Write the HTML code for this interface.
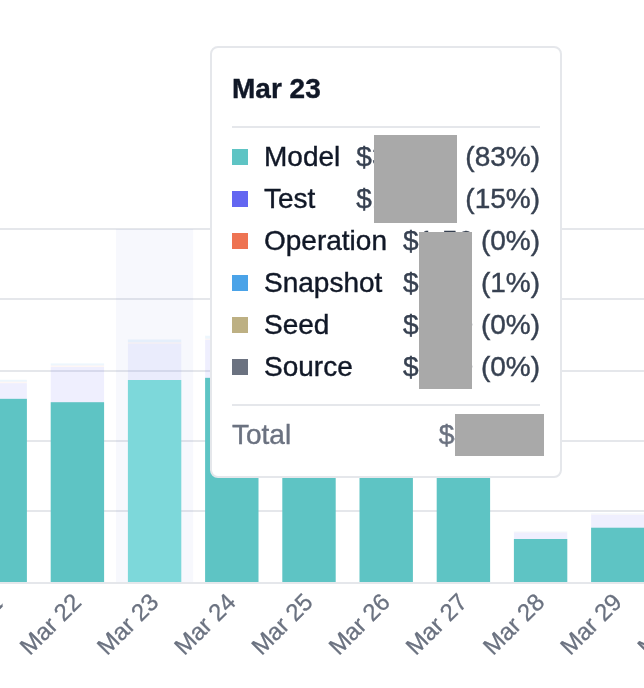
<!DOCTYPE html>
<html lang="en">
<head>
<meta charset="utf-8">
<title>Cost chart</title>
<style>
html,body{margin:0;padding:0;background:#fff;}
body{width:644px;height:688px;position:relative;overflow:hidden;font-family:"Liberation Sans",Arial,Helvetica,sans-serif;}
.chart{position:absolute;left:0;top:0;display:block;font-family:"Liberation Sans",Arial,Helvetica,sans-serif;}
.tip{position:absolute;left:210px;top:46px;width:308px;height:388px;padding:20px;border:2px solid #e5e7eb;border-radius:8px;background:#fff;font-size:28px;line-height:42px;color:#111827;}
.title{font-weight:bold;height:42px;padding-bottom:16px;border-bottom:2px solid #e5e7eb;margin-bottom:8px;}
.row{height:42px;position:relative;white-space:nowrap;}
.sw{position:absolute;left:0;top:13px;width:16px;height:16px;}
.lab{position:absolute;left:32px;top:0;-webkit-text-stroke:0.4px #111827;}
.val{position:absolute;right:0;top:0;color:#374151;-webkit-text-stroke:0.4px #374151;}
.total{margin-top:16px;border-top:2px solid #e5e7eb;padding-top:8px;height:42px;position:relative;color:#6b7280;}
.total .val{top:8px;color:#6b7280;-webkit-text-stroke:0.4px #6b7280;}
.total .tl{position:absolute;left:0;top:8px;-webkit-text-stroke:0.4px #6b7280;}
.title span{display:inline-block;-webkit-text-stroke:0.4px #111827;}
.mask{position:absolute;background:#a9a9a9;}
</style>
</head>
<body>
<svg class="chart" width="644" height="688" viewBox="0 0 644 688">
<rect x="0" y="228.00" width="644" height="2" fill="#e5e7eb"/>
<rect x="0" y="298.00" width="644" height="2" fill="#e5e7eb"/>
<rect x="0" y="370.00" width="644" height="2" fill="#e5e7eb"/>
<rect x="0" y="440.00" width="644" height="2" fill="#e5e7eb"/>
<rect x="0" y="510.00" width="644" height="2" fill="#e5e7eb"/>
<rect x="116.00" y="229.00" width="77.20" height="353.00" fill="#6378dc" fill-opacity="0.05"/>
<rect x="-26.50" y="398.80" width="53.4" height="183.20" fill="#5ec4c4"/>
<rect x="-26.50" y="383.20" width="53.4" height="15.60" fill="#6366f1" fill-opacity="0.1"/>
<rect x="-26.50" y="381.70" width="53.4" height="1.50" fill="#ee7352" fill-opacity="0.06"/>
<rect x="-26.50" y="379.80" width="53.4" height="1.90" fill="#4aa3e8" fill-opacity="0.1"/>
<rect x="50.70" y="402.20" width="53.4" height="179.80" fill="#5ec4c4"/>
<rect x="50.70" y="367.00" width="53.4" height="35.20" fill="#6366f1" fill-opacity="0.1"/>
<rect x="50.70" y="365.50" width="53.4" height="1.50" fill="#ee7352" fill-opacity="0.06"/>
<rect x="50.70" y="363.40" width="53.4" height="2.10" fill="#4aa3e8" fill-opacity="0.1"/>
<rect x="127.90" y="380.00" width="53.4" height="202.00" fill="#7dd8da"/>
<rect x="127.90" y="343.70" width="53.4" height="36.30" fill="#818cf8" fill-opacity="0.1"/>
<rect x="127.90" y="342.30" width="53.4" height="1.40" fill="#ee7352" fill-opacity="0.06"/>
<rect x="127.90" y="339.50" width="53.4" height="2.80" fill="#4aa3e8" fill-opacity="0.1"/>
<rect x="205.10" y="377.80" width="53.4" height="204.20" fill="#5ec4c4"/>
<rect x="205.10" y="339.80" width="53.4" height="38.00" fill="#6366f1" fill-opacity="0.1"/>
<rect x="205.10" y="338.60" width="53.4" height="1.20" fill="#ee7352" fill-opacity="0.06"/>
<rect x="205.10" y="335.70" width="53.4" height="2.90" fill="#4aa3e8" fill-opacity="0.1"/>
<rect x="282.30" y="420.00" width="53.4" height="162.00" fill="#5ec4c4"/>
<rect x="282.30" y="403.00" width="53.4" height="17.00" fill="#6366f1" fill-opacity="0.1"/>
<rect x="282.30" y="402.00" width="53.4" height="1.00" fill="#ee7352" fill-opacity="0.06"/>
<rect x="282.30" y="400.00" width="53.4" height="2.00" fill="#4aa3e8" fill-opacity="0.1"/>
<rect x="359.50" y="430.00" width="53.4" height="152.00" fill="#5ec4c4"/>
<rect x="359.50" y="413.00" width="53.4" height="17.00" fill="#6366f1" fill-opacity="0.1"/>
<rect x="359.50" y="412.00" width="53.4" height="1.00" fill="#ee7352" fill-opacity="0.06"/>
<rect x="359.50" y="410.00" width="53.4" height="2.00" fill="#4aa3e8" fill-opacity="0.1"/>
<rect x="436.70" y="440.00" width="53.4" height="142.00" fill="#5ec4c4"/>
<rect x="436.70" y="423.00" width="53.4" height="17.00" fill="#6366f1" fill-opacity="0.1"/>
<rect x="436.70" y="422.00" width="53.4" height="1.00" fill="#ee7352" fill-opacity="0.06"/>
<rect x="436.70" y="420.00" width="53.4" height="2.00" fill="#4aa3e8" fill-opacity="0.1"/>
<rect x="513.90" y="539.00" width="53.4" height="43.00" fill="#5ec4c4"/>
<rect x="513.90" y="532.60" width="53.4" height="6.40" fill="#6366f1" fill-opacity="0.1"/>
<rect x="513.90" y="532.20" width="53.4" height="0.40" fill="#ee7352" fill-opacity="0.06"/>
<rect x="513.90" y="531.60" width="53.4" height="0.60" fill="#4aa3e8" fill-opacity="0.1"/>
<rect x="591.10" y="527.70" width="53.4" height="54.30" fill="#5ec4c4"/>
<rect x="591.10" y="514.80" width="53.4" height="12.90" fill="#6366f1" fill-opacity="0.1"/>
<rect x="591.10" y="514.30" width="53.4" height="0.50" fill="#ee7352" fill-opacity="0.06"/>
<rect x="591.10" y="513.50" width="53.4" height="0.80" fill="#4aa3e8" fill-opacity="0.1"/>
<rect x="668.30" y="540.00" width="53.4" height="42.00" fill="#5ec4c4"/>
<rect x="668.30" y="531.00" width="53.4" height="9.00" fill="#6366f1" fill-opacity="0.1"/>
<rect x="668.30" y="530.50" width="53.4" height="0.50" fill="#ee7352" fill-opacity="0.06"/>
<rect x="668.30" y="530.00" width="53.4" height="0.50" fill="#4aa3e8" fill-opacity="0.1"/>
<rect x="0" y="582.00" width="644" height="2" fill="#e5e7eb"/>
<text x="5.50" y="603.50" transform="rotate(-45 5.50 603.50)" text-anchor="end" font-size="24" fill="#6b7280" stroke="#6b7280" stroke-width="0.3">Mar 21</text>
<text x="82.70" y="603.50" transform="rotate(-45 82.70 603.50)" text-anchor="end" font-size="24" fill="#6b7280" stroke="#6b7280" stroke-width="0.3">Mar 22</text>
<text x="159.90" y="603.50" transform="rotate(-45 159.90 603.50)" text-anchor="end" font-size="24" fill="#6b7280" stroke="#6b7280" stroke-width="0.3">Mar 23</text>
<text x="237.10" y="603.50" transform="rotate(-45 237.10 603.50)" text-anchor="end" font-size="24" fill="#6b7280" stroke="#6b7280" stroke-width="0.3">Mar 24</text>
<text x="314.30" y="603.50" transform="rotate(-45 314.30 603.50)" text-anchor="end" font-size="24" fill="#6b7280" stroke="#6b7280" stroke-width="0.3">Mar 25</text>
<text x="391.50" y="603.50" transform="rotate(-45 391.50 603.50)" text-anchor="end" font-size="24" fill="#6b7280" stroke="#6b7280" stroke-width="0.3">Mar 26</text>
<text x="468.70" y="603.50" transform="rotate(-45 468.70 603.50)" text-anchor="end" font-size="24" fill="#6b7280" stroke="#6b7280" stroke-width="0.3">Mar 27</text>
<text x="545.90" y="603.50" transform="rotate(-45 545.90 603.50)" text-anchor="end" font-size="24" fill="#6b7280" stroke="#6b7280" stroke-width="0.3">Mar 28</text>
<text x="623.10" y="603.50" transform="rotate(-45 623.10 603.50)" text-anchor="end" font-size="24" fill="#6b7280" stroke="#6b7280" stroke-width="0.3">Mar 29</text>
<text x="700.30" y="603.50" transform="rotate(-45 700.30 603.50)" text-anchor="end" font-size="24" fill="#6b7280" stroke="#6b7280" stroke-width="0.3">Mar 30</text>
<rect x="2.6" y="596" width="6" height="10.5" fill="#fff"/>
</svg>
<div class="tip">
<div class="title"><span>Mar 23</span></div>
<div class="row"><span class="sw" style="background:#5ec4c4"></span><span class="lab">Model</span><span class="val">$353.20 (83%)</span></div>
<div class="row"><span class="sw" style="background:#6366f1"></span><span class="lab">Test</span><span class="val">$103.45 (15%)</span></div>
<div class="row"><span class="sw" style="background:#ee7352"></span><span class="lab">Operation</span><span class="val">$1.56 (0%)</span></div>
<div class="row"><span class="sw" style="background:#4aa3e8"></span><span class="lab">Snapshot</span><span class="val">$7.26 (1%)</span></div>
<div class="row"><span class="sw" style="background:#bdb083"></span><span class="lab">Seed</span><span class="val">$0.00 (0%)</span></div>
<div class="row"><span class="sw" style="background:#6b7280"></span><span class="lab">Source</span><span class="val">$0.00 (0%)</span></div>
<div class="total"><span class="tl">Total</span><span class="val">$425.47</span></div>
</div>
<div class="mask" style="left:374px;top:135px;width:83px;height:88px"></div>
<div class="mask" style="left:419px;top:232px;width:53px;height:157px"></div>
<div class="mask" style="left:455px;top:414px;width:89px;height:42px"></div>
</body>
</html>
